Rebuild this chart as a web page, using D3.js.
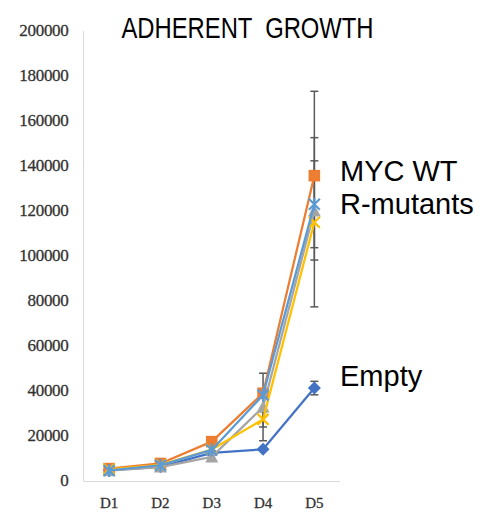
<!DOCTYPE html>
<html>
<head>
<meta charset="utf-8">
<script src="https://cdn.jsdelivr.net/npm/d3@7"></script>
<style>
    html, body { margin: 0; padding: 0; background: #fff; }
    svg { display: block; }
</style>
</head>
<body>
<div id="chart"></div>
<script>
// data
const days = ['D1', 'D2', 'D3', 'D4', 'D5'];
const yTicks = [0, 20000, 40000, 60000, 80000, 100000, 120000, 140000, 160000, 180000, 200000];

const emptyVals = [4800, 6300, 12500, 14100, 41300];
const emptyErr = [0, 0, 0, 0, 3000];
const mycVals = [5500, 7800, 17500, 39000, 135700];
const mycErr = [0, 0, 0, 0, 37500];
const grayVals = [4600, 6200, 10700, 32900, 120000];
const grayErr = [0, 0, 0, 15000, 0];
const yellowVals = [5200, 7200, 14000, 27400, 115000];
const yellowErr = [0, 0, 0, 3400, 37600];
const blueVals = [4700, 7000, 13800, 38200, 123000];
const blueErr = [0, 0, 0, 0, 19300];

const seriesList = [
    { name: 'Empty', color: '#4472C4', marker: 'diamond', values: emptyVals, err: emptyErr },
    { name: 'MYC WT', color: '#ED7D31', marker: 'square', values: mycVals, err: mycErr },
    { name: 'R-mut 1', color: '#A5A5A5', marker: 'triangle', values: grayVals, err: grayErr },
    { name: 'R-mut 2', color: '#FFC000', marker: 'x', values: yellowVals, err: yellowErr },
    { name: 'R-mut 3', color: '#5B9BD5', marker: 'star', values: blueVals, err: blueErr },
];

const sideLabels = [
    { text: 'MYC WT', y: 181 },
    { text: 'R-mutants', y: 214 },
    { text: 'Empty', y: 386 },
];

const width = 487;
const height = 519;

const svg = d3.select('#chart')
    .append('svg')
        .attr('width', width)
        .attr('height', height);

const x = d3.scaleBand()
    .domain(days)
    .range([83.5, 340]);

const y = d3.scaleLinear()
    .domain([0, 200000])
    .range([481, 31]);

const cx = d => x(d) + x.bandwidth() / 2;

// axes lines
svg.append('line')
    .attr('x1', 83.5).attr('x2', 83.5)
    .attr('y1', y(200000)).attr('y2', y(0))
    .attr('stroke', '#d9d9d9').attr('stroke-width', 1);

svg.append('line')
    .attr('x1', 83.5).attr('x2', 340)
    .attr('y1', y(0) + 0.5).attr('y2', y(0) + 0.5)
    .attr('stroke', '#d9d9d9').attr('stroke-width', 1);

svg.selectAll('.ytick')
    .data(yTicks)
    .enter().append('text')
        .attr('class', 'ytick')
        .attr('x', 68.5)
        .attr('y', d => y(d) + 4.5)
        .attr('text-anchor', 'end')
        .attr('font-family', 'Liberation Serif, serif')
        .attr('font-size', 17)
        .attr('letter-spacing', -0.3)
        .attr('fill', '#333')
        .attr('stroke', '#333')
        .attr('stroke-width', 0.3)
        .text(d => d);

svg.selectAll('.xtick')
    .data(days)
    .enter().append('text')
        .attr('class', 'xtick')
        .attr('x', d => cx(d))
        .attr('y', 507.5)
        .attr('text-anchor', 'middle')
        .attr('font-family', 'Liberation Serif, serif')
        .attr('font-size', 15)
        .attr('fill', '#333')
        .attr('stroke', '#333')
        .attr('stroke-width', 0.3)
        .text(d => d);

// error bars first
const errG = svg.append('g');
seriesList.forEach(s => {
    s.values.forEach((v, i) => {
        const e = s.err[i];
        if (!e) return;
        const px = cx(days[i]);
        errG.append('line')
            .attr('x1', px).attr('x2', px)
            .attr('y1', y(v + e)).attr('y2', y(v - e))
            .attr('stroke', '#595959').attr('stroke-width', 1.5);
        [v + e, v - e].forEach(t => {
            errG.append('line')
                .attr('x1', px - 4).attr('x2', px + 4)
                .attr('y1', y(t)).attr('y2', y(t))
                .attr('stroke', '#595959').attr('stroke-width', 1.5);
        });
    });
});

const line = d3.line()
    .x((d, i) => cx(days[i]))
    .y(d => y(d));

const markerPath = {
    diamond: 'M0,-6.5L6.5,0L0,6.5L-6.5,0Z',
    square: 'M-5.8,-5.8H5.8V5.8H-5.8Z',
    triangle: 'M0,-6.5L6.5,5.5L-6.5,5.5Z',
    x: 'M-5.5,-5.5L5.5,5.5M5.5,-5.5L-5.5,5.5',
    star: 'M-5.5,-5.5L5.5,5.5M5.5,-5.5L-5.5,5.5M0,-6.5V6.5',
};

seriesList.forEach(s => {
    const g = svg.append('g');
    g.append('path')
        .datum(s.values)
        .attr('fill', 'none')
        .attr('stroke', s.color)
        .attr('stroke-width', 2.25)
        .attr('stroke-linejoin', 'round')
        .attr('d', line);

    const stroked = s.marker === 'x' || s.marker === 'star';
    g.selectAll('.marker')
        .data(s.values)
        .enter().append('path')
            .attr('class', 'marker')
            .attr('transform', (d, i) => `translate(${cx(days[i])},${y(d)})`)
            .attr('d', markerPath[s.marker])
            .attr('fill', stroked ? 'none' : s.color)
            .attr('stroke', stroked ? s.color : 'none')
            .attr('stroke-width', stroked ? 2.2 : 0);
});

// title
svg.append('text')
    .attr('x', 121.5)
    .attr('y', 38)
    .attr('font-family', 'Liberation Sans, Arial, sans-serif')
    .attr('font-size', 30)
    .attr('textLength', 252)
    .attr('lengthAdjust', 'spacingAndGlyphs')
    .attr('fill', '#000')
    .style('white-space', 'pre')
    .text('ADHERENT  GROWTH');

svg.selectAll('.side')
    .data(sideLabels)
    .enter().append('text')
        .attr('class', 'side')
        .attr('x', 340)
        .attr('y', d => d.y)
        .attr('font-family', 'Liberation Sans, Arial, sans-serif')
        .attr('font-size', 29)
        .attr('fill', '#000')
        .text(d => d.text);
</script>
</body>
</html>
